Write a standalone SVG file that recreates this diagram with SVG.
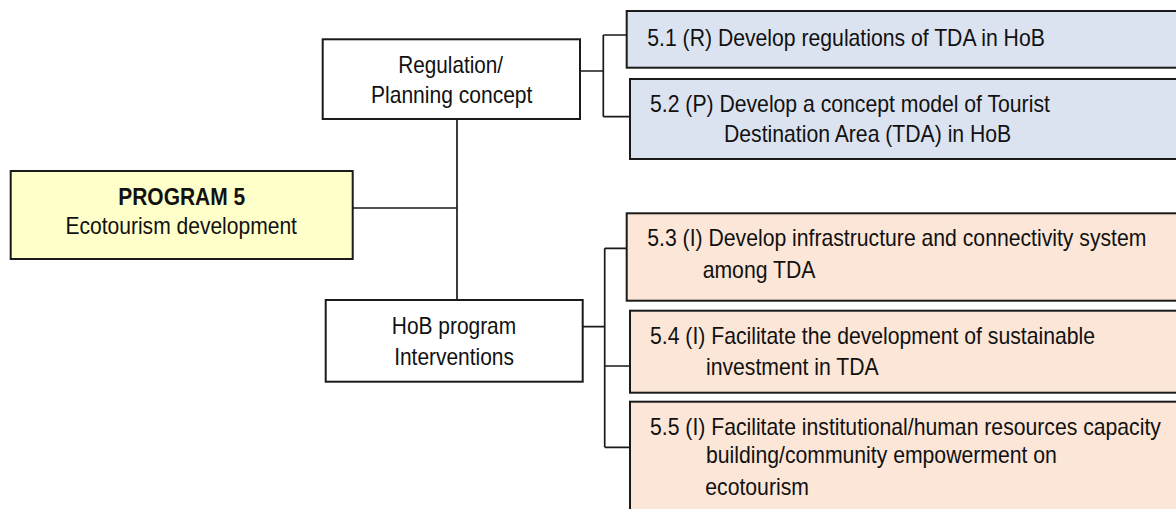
<svg xmlns="http://www.w3.org/2000/svg" width="1176" height="509" viewBox="0 0 1176 509">
<style>
.box{stroke:#1a1a1a;stroke-width:2}
.node{font-family:"Liberation Sans",Arial,sans-serif;font-size:23px;fill:#111;text-anchor:middle}
.item{font-family:"Liberation Sans",Arial,sans-serif;font-size:24px;fill:#111}
.conn{stroke:#1a1a1a;stroke-width:1.7;fill:none}
.blue{fill:#DCE3F0}
.peach{fill:#FCE6D7}
</style>
<rect width="1176" height="509" fill="#fff"/>
<g id="connectors">
<path class="conn" d="M352.7 208 H457 M457 119 V300 M580 71 H603.3 M603.3 35 V116.7 M603.3 35 H626.7 M603.3 116.7 H630 M583 326.7 H604.7 M604.7 248.3 V447.3 M604.7 248.3 H626.7 M604.7 366 H630 M604.7 447.3 H630"/>
</g>
<g id="program5">
<rect class="box" x="10.7" y="171" width="342" height="88" fill="#FFFFCA"/>
<text class="node" transform="matrix(0.912 0 0 1 181.7 204.5)" font-weight="bold">PROGRAM 5</text>
<text class="node" transform="matrix(0.915 0 0 1 181.2 234)">Ecotourism development</text>
</g>
<g id="regulation">
<rect class="box" x="322.7" y="39.3" width="257.3" height="79.7" fill="#fff"/>
<text class="node" transform="matrix(0.9 0 0 1 450.7 73.3)">Regulation/</text>
<text class="node" transform="matrix(0.915 0 0 1 451.7 103.3)">Planning concept</text>
</g>
<g id="hob">
<rect class="box" x="325.7" y="300" width="257" height="81.7" fill="#fff"/>
<text class="node" transform="matrix(0.91 0 0 1 454 334.3)">HoB program</text>
<text class="node" transform="matrix(0.91 0 0 1 454 365)">Interventions</text>
</g>
<g id="item51">
<rect class="box blue" x="626.7" y="11" width="560" height="56.7"/>
<text class="item" transform="matrix(0.883 0 0 1 647.3 46)">5.1 (R) Develop regulations of TDA in HoB</text>
</g>
<g id="item52">
<rect class="box blue" x="630" y="79" width="560" height="80"/>
<text class="item" transform="matrix(0.883 0 0 1 650 112.3)">5.2 (P) Develop a concept model of Tourist</text>
<text class="item" transform="matrix(0.883 0 0 1 724 142.3)">Destination Area (TDA) in HoB</text>
</g>
<g id="item53">
<rect class="box peach" x="626.7" y="213.3" width="560" height="87.4"/>
<text class="item" transform="matrix(0.883 0 0 1 647.3 245.7)">5.3 (I) Develop infrastructure and connectivity system</text>
<text class="item" transform="matrix(0.883 0 0 1 702.7 278.3)">among TDA</text>
</g>
<g id="item54">
<rect class="box peach" x="630" y="310.7" width="560" height="82"/>
<text class="item" transform="matrix(0.883 0 0 1 650 344)">5.4 (I) Facilitate the development of sustainable</text>
<text class="item" transform="matrix(0.883 0 0 1 706 375)">investment in TDA</text>
</g>
<g id="item55">
<rect class="box peach" x="630" y="401.7" width="560" height="120"/>
<text class="item" transform="matrix(0.883 0 0 1 650 435)">5.5 (I) Facilitate institutional/human resources capacity</text>
<text class="item" transform="matrix(0.883 0 0 1 706 463.3)">building/community empowerment on</text>
<text class="item" transform="matrix(0.883 0 0 1 705.3 495)">ecotourism</text>
</g>
</svg>
